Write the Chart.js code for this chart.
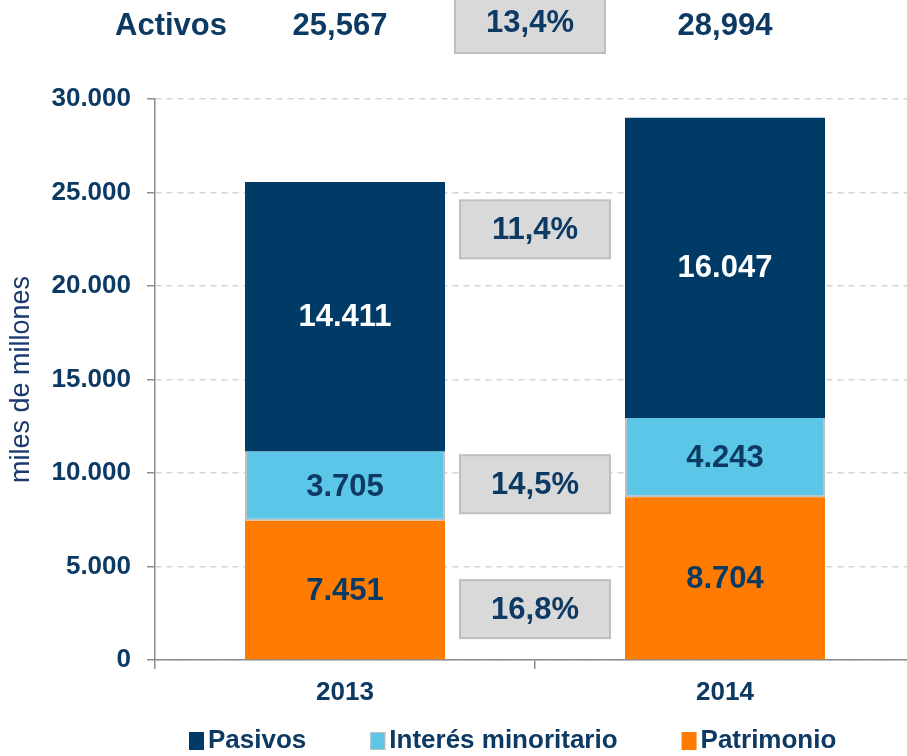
<!DOCTYPE html>
<html>
<head>
<meta charset="utf-8">
<script src="https://cdn.jsdelivr.net/npm/chart.js@4.4.1/dist/chart.umd.min.js"></script>
<style>
  html, body { margin: 0; padding: 0; background: #fff; overflow: hidden; }
  #wrap { width: 907px; height: 756px; overflow: hidden; position: relative; }
  #inner { width: 915px; height: 756px; }
</style>
</head>
<body>
<div id="wrap"><div id="inner"><canvas id="myChart"></canvas></div></div>
<script>
// Data
const years = ['2013', '2014'];
const patrimonio = [7451, 8704];
const interesMinoritario = [3705, 4243];
const pasivos = [14411, 16047];
const activosTexto = ['25,567', '28,994'];
const variacionActivos = '13,4%';
const variaciones = ['11,4%', '14,5%', '16,8%']; // pasivos, interés, patrimonio
const yTicks = [0, 5000, 10000, 15000, 20000, 25000, 30000];

const NAVY = '#003A66';
const TEXT = '#0D3A63';
const FONT = "'Liberation Sans', Arial, sans-serif";

function fmt(v) {
    return String(v).replace(/\B(?=(\d{3})+(?!\d))/g, '.');
}

// where the grey change boxes sit (axis value of box centre)
const boxAnchors = [23030, 9400, 2720];

function greyBox(ctx, cx, cy, w, h, text) {
    ctx.save();
    ctx.fillStyle = '#D9D9D9';
    ctx.strokeStyle = '#BFBFBF';
    ctx.lineWidth = 2;
    ctx.fillRect(cx - w / 2, cy - h / 2, w, h);
    ctx.strokeRect(cx - w / 2, cy - h / 2, w, h);
    ctx.fillStyle = TEXT;
    ctx.font = 'bold 31px ' + FONT;
    ctx.textAlign = 'center';
    ctx.textBaseline = 'middle';
    ctx.fillText(text, cx, cy + 1);
    ctx.restore();
}

const extras = {
    id: 'extras',
    afterDatasetsDraw(chart) {
        const ctx = chart.ctx;
        // labels inside the segments
        chart.data.datasets.forEach((ds, i) => {
            const meta = chart.getDatasetMeta(i);
            meta.data.forEach((bar, j) => {
                ctx.save();
                ctx.fillStyle = ds.labelColor;
                ctx.font = 'bold 31px ' + FONT;
                ctx.textAlign = 'center';
                ctx.textBaseline = 'middle';
                ctx.fillText(fmt(ds.data[j]), bar.x, (bar.y + bar.base) / 2 + 1);
                ctx.restore();
            });
        });
    },
    afterDraw(chart) {
        const ctx = chart.ctx;
        const x = chart.scales.x;
        const y = chart.scales.y;
        const x0 = x.getPixelForValue(0);
        const x1 = x.getPixelForValue(1);
        const mid = (x0 + x1) / 2;

        // change boxes between the bars
        variaciones.forEach((t, i) => {
            greyBox(ctx, mid, y.getPixelForValue(boxAnchors[i]), 150, 58, t);
        });

        // header row
        greyBox(ctx, mid - 5, 22, 150, 62, variacionActivos);
        ctx.save();
        ctx.fillStyle = TEXT;
        ctx.font = 'bold 31px ' + FONT;
        ctx.textAlign = 'center';
        ctx.textBaseline = 'middle';
        ctx.fillText('Activos', 171, 26);
        ctx.fillText(activosTexto[0], x0 - 5, 26);
        ctx.fillText(activosTexto[1], x1, 26);
        ctx.restore();

        // legend
        const order = [2, 1, 0];
        let lx = 189;
        const ly = 741;
        ctx.save();
        ctx.font = 'bold 26px ' + FONT;
        ctx.textBaseline = 'middle';
        order.forEach(i => {
            const ds = chart.data.datasets[i];
            ctx.fillStyle = ds.backgroundColor;
            ctx.fillRect(lx, ly - 9, 15, 18);
            if (i === 1) {
                ctx.strokeStyle = '#BFBFBF';
                ctx.lineWidth = 1;
                ctx.strokeRect(lx + 0.5, ly - 8.5, 14, 17);
            }
            ctx.fillStyle = TEXT;
            ctx.textAlign = 'left';
            ctx.fillText(ds.label, lx + 19, ly);
            lx += 19 + ctx.measureText(ds.label).width + 64;
        });
        ctx.restore();
    }
};

let ctx = document.getElementById('myChart').getContext('2d');
let myChart = new Chart(ctx, {
    type: 'bar',
    data: {
        labels: years,
        datasets: [
            {
                label: 'Patrimonio',
                data: patrimonio,
                backgroundColor: '#FF7C00',
                labelColor: TEXT
            },
            {
                label: 'Interés minoritario',
                data: interesMinoritario,
                backgroundColor: '#5BC6E8',
                borderColor: '#BFBFBF',
                borderWidth: { left: 2, right: 2, bottom: 2, top: 0 },
                borderSkipped: false,
                labelColor: TEXT
            },
            {
                label: 'Pasivos',
                data: pasivos,
                backgroundColor: NAVY,
                labelColor: '#FFFFFF'
            }
        ]
    },
    options: {
        responsive: true,
        maintainAspectRatio: false,
        animation: false,
        layout: { padding: { top: 99, left: 0, right: 0, bottom: 0 } },
        datasets: {
            bar: { barPercentage: 1, categoryPercentage: 200 / 380 }
        },
        plugins: {
            legend: { display: false },
            tooltip: { enabled: false }
        },
        scales: {
            x: {
                stacked: true,
                afterFit: s => { s.height = 96; },
                border: { color: '#8C8C8C', width: 1.5 },
                grid: {
                    drawOnChartArea: false,
                    tickLength: 9,
                    tickColor: '#8C8C8C',
                    lineWidth: 1.5
                },
                ticks: {
                    color: TEXT,
                    padding: 8,
                    font: { family: FONT, size: 26, weight: 'bold' }
                }
            },
            y: {
                stacked: true,
                min: 0,
                max: 30000,
                afterFit: s => { s.width = 155; },
                afterBuildTicks: s => { s.ticks = yTicks.map(v => ({ value: v })); },
                border: { color: '#8C8C8C', width: 1.5, dash: [6, 5] },
                grid: {
                    color: '#D4D4D4',
                    lineWidth: 1.5,
                    tickLength: 8,
                    tickColor: '#8C8C8C',
                    tickBorderDash: []
                },
                ticks: {
                    color: TEXT,
                    padding: 16,
                    font: { family: FONT, size: 26, weight: 'bold' },
                    callback: v => fmt(v)
                },
                title: {
                    display: true,
                    text: 'miles de millones',
                    color: '#1B3A6E',
                    padding: { top: 5, bottom: 6 },
                    font: { family: FONT, size: 27 }
                }
            }
        }
    },
    plugins: [extras]
});
</script>
</body>
</html>
